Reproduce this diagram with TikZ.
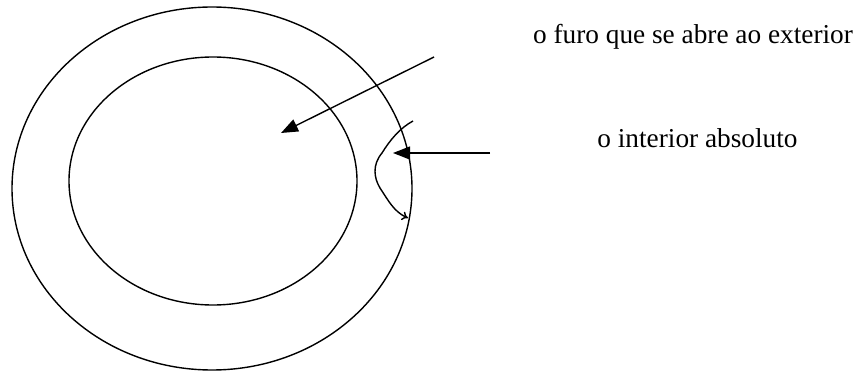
\documentclass[tikz,border=0pt]{standalone}
\usepackage{fontspec}
\setmainfont{Liberation Serif}
\usetikzlibrary{arrows.meta}
\begin{document}
\begin{tikzpicture}[x=1pt,y=-1pt,
  ln/.style={line width=1.4pt},
  lbl/.style={font=\fontsize{27.3}{32}\selectfont, anchor=base, inner sep=0pt},
  bigarrow/.style={ln,-{Triangle[length=17pt,width=13pt]}}]
\useasboundingbox (0,0) rectangle (856,371);
\draw[ln] (212,188.5) ellipse [x radius=200, y radius=181.5];
\draw[ln] (213,181) ellipse [x radius=144, y radius=124];
\coordinate (s1) at (434,57);
\coordinate (t1) at (281,133);
\coordinate (s2) at (490,153);
\coordinate (t2) at (393,153);
\draw[bigarrow] (s1) -- (t1);
\draw[bigarrow] (s2) -- (t2);
\coordinate (q0) at (413,121);
\coordinate (q1) at (408,218);
\draw[ln,-{To[length=6pt,width=9pt]}] (q0) .. controls (400,128) and (390,140) .. (382,153)
  .. controls (372,165) and (374,178) .. (380,188)
  .. controls (388,200) and (394,212) .. (q1);
\node[lbl] (furo) at (693,43.5) {o furo que se abre ao exterior};
\node[lbl] (abs) at (697.5,148) {o interior absoluto};
\end{tikzpicture}
\end{document}
